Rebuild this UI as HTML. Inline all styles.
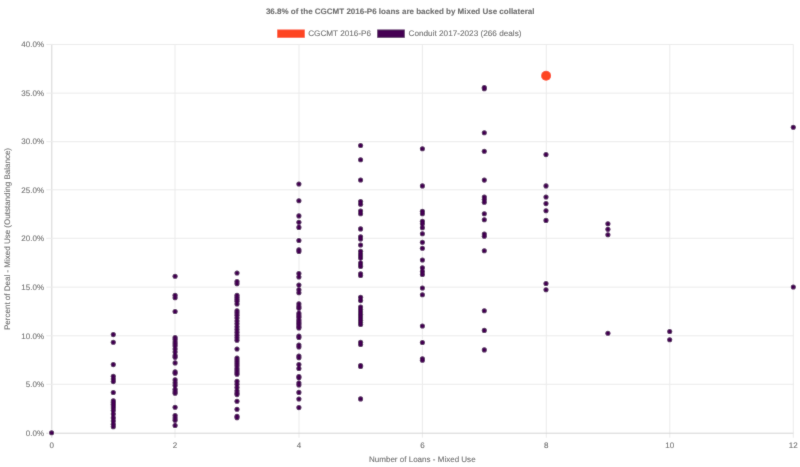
<!DOCTYPE html><html><head><meta charset="utf-8"><style>html,body{margin:0;padding:0;background:#fff;width:800px;height:467px;overflow:hidden}svg{display:block;will-change:transform}text{text-rendering:geometricPrecision;font-family:"Liberation Sans",sans-serif;font-size:8px;fill:#666666;stroke:#777;stroke-width:0.18px;stroke-opacity:0.6}</style></head><body>
<svg width="800" height="467" viewBox="0 0 800 467">
<defs><filter id="soft" x="0" y="0" width="800" height="467" filterUnits="userSpaceOnUse"><feConvolveMatrix order="3" kernelMatrix="0.2 1 0.2 1 10 1 0.2 1 0.2" edgeMode="none"/></filter></defs><g filter="url(#soft)"><rect width="800" height="467" fill="#fff"/>
<line x1="51.80" y1="44.45" x2="51.80" y2="437.70" stroke="#d4d4d4" stroke-width="1"/>
<line x1="175.00" y1="44.45" x2="175.00" y2="437.70" stroke="#ebebeb" stroke-width="1"/>
<line x1="299.00" y1="44.45" x2="299.00" y2="437.70" stroke="#ebebeb" stroke-width="1"/>
<line x1="422.40" y1="44.45" x2="422.40" y2="437.70" stroke="#ebebeb" stroke-width="1"/>
<line x1="546.30" y1="44.45" x2="546.30" y2="437.70" stroke="#ebebeb" stroke-width="1"/>
<line x1="669.80" y1="44.45" x2="669.80" y2="437.70" stroke="#ebebeb" stroke-width="1"/>
<line x1="793.30" y1="44.45" x2="793.30" y2="437.70" stroke="#ebebeb" stroke-width="1"/>
<line x1="46.30" y1="44.45" x2="793.30" y2="44.45" stroke="#ebebeb" stroke-width="1"/>
<line x1="46.30" y1="93.15" x2="793.30" y2="93.15" stroke="#ebebeb" stroke-width="1"/>
<line x1="46.30" y1="141.70" x2="793.30" y2="141.70" stroke="#ebebeb" stroke-width="1"/>
<line x1="46.30" y1="189.80" x2="793.30" y2="189.80" stroke="#ebebeb" stroke-width="1"/>
<line x1="46.30" y1="238.30" x2="793.30" y2="238.30" stroke="#ebebeb" stroke-width="1"/>
<line x1="46.30" y1="287.15" x2="793.30" y2="287.15" stroke="#ebebeb" stroke-width="1"/>
<line x1="46.30" y1="335.80" x2="793.30" y2="335.80" stroke="#ebebeb" stroke-width="1"/>
<line x1="46.30" y1="384.30" x2="793.30" y2="384.30" stroke="#ebebeb" stroke-width="1"/>
<line x1="46.30" y1="433.20" x2="793.30" y2="433.20" stroke="#d4d4d4" stroke-width="1"/>
<text x="44.00" y="47.20" text-anchor="end">40.0%</text>
<text x="44.00" y="95.90" text-anchor="end">35.0%</text>
<text x="44.00" y="144.45" text-anchor="end">30.0%</text>
<text x="44.00" y="192.55" text-anchor="end">25.0%</text>
<text x="44.00" y="241.05" text-anchor="end">20.0%</text>
<text x="44.00" y="289.90" text-anchor="end">15.0%</text>
<text x="44.00" y="338.55" text-anchor="end">10.0%</text>
<text x="44.00" y="387.05" text-anchor="end">5.0%</text>
<text x="44.00" y="435.95" text-anchor="end">0.0%</text>
<text x="51.80" y="447.7" text-anchor="middle">0</text>
<text x="175.00" y="447.7" text-anchor="middle">2</text>
<text x="299.00" y="447.7" text-anchor="middle">4</text>
<text x="422.40" y="447.7" text-anchor="middle">6</text>
<text x="546.30" y="447.7" text-anchor="middle">8</text>
<text x="669.80" y="447.7" text-anchor="middle">10</text>
<text x="793.30" y="447.7" text-anchor="middle">12</text>
<text x="422.3" y="461.9" text-anchor="middle" textLength="106.6" lengthAdjust="spacingAndGlyphs">Number of Loans - Mixed Use</text>
<text transform="translate(10.2 239.0) rotate(-90)" text-anchor="middle" textLength="182" lengthAdjust="spacingAndGlyphs">Percent of Deal - Mixed Use (Outstanding Balance)</text>
<text x="400.2" y="14.3" text-anchor="middle" style="font-weight:bold">36.8% of the CGCMT 2016-P6 loans are backed by Mixed Use collateral</text>
<rect x="277.2" y="29.5" width="27.6" height="8.3" fill="#fe4523"/>
<text x="308.2" y="36.4" textLength="62.8" lengthAdjust="spacingAndGlyphs">CGCMT 2016-P6</text>
<rect x="377.2" y="29.5" width="27.6" height="8.3" fill="#440352"/>
<text x="408.5" y="36.4" textLength="113" lengthAdjust="spacingAndGlyphs">Conduit 2017-2023 (266 deals)</text>
<g fill="#fff" fill-opacity="0.7">
<circle cx="51.60" cy="432.80" r="3.3"/>
<circle cx="113.30" cy="334.60" r="3.3"/>
<circle cx="113.30" cy="342.30" r="3.3"/>
<circle cx="113.30" cy="364.60" r="3.3"/>
<circle cx="113.30" cy="376.30" r="3.3"/>
<circle cx="113.30" cy="379.00" r="3.3"/>
<circle cx="113.30" cy="381.60" r="3.3"/>
<circle cx="113.30" cy="392.50" r="3.3"/>
<circle cx="113.30" cy="400.90" r="3.3"/>
<circle cx="113.30" cy="402.60" r="3.3"/>
<circle cx="113.30" cy="404.30" r="3.3"/>
<circle cx="113.30" cy="406.10" r="3.3"/>
<circle cx="113.30" cy="408.10" r="3.3"/>
<circle cx="113.30" cy="410.50" r="3.3"/>
<circle cx="113.30" cy="414.00" r="3.3"/>
<circle cx="113.30" cy="417.90" r="3.3"/>
<circle cx="113.30" cy="421.10" r="3.3"/>
<circle cx="113.30" cy="424.30" r="3.3"/>
<circle cx="113.30" cy="426.70" r="3.3"/>
<circle cx="175.10" cy="276.30" r="3.3"/>
<circle cx="175.10" cy="295.20" r="3.3"/>
<circle cx="175.10" cy="297.80" r="3.3"/>
<circle cx="175.10" cy="311.50" r="3.3"/>
<circle cx="175.10" cy="337.50" r="3.3"/>
<circle cx="175.10" cy="339.50" r="3.3"/>
<circle cx="175.10" cy="342.00" r="3.3"/>
<circle cx="175.10" cy="344.00" r="3.3"/>
<circle cx="175.10" cy="346.10" r="3.3"/>
<circle cx="175.10" cy="349.00" r="3.3"/>
<circle cx="175.10" cy="352.10" r="3.3"/>
<circle cx="175.10" cy="355.50" r="3.3"/>
<circle cx="175.10" cy="357.30" r="3.3"/>
<circle cx="175.10" cy="362.90" r="3.3"/>
<circle cx="175.10" cy="371.80" r="3.3"/>
<circle cx="175.10" cy="373.30" r="3.3"/>
<circle cx="175.10" cy="379.90" r="3.3"/>
<circle cx="175.10" cy="382.80" r="3.3"/>
<circle cx="175.10" cy="385.40" r="3.3"/>
<circle cx="175.10" cy="389.30" r="3.3"/>
<circle cx="175.10" cy="391.50" r="3.3"/>
<circle cx="175.10" cy="393.20" r="3.3"/>
<circle cx="175.10" cy="407.30" r="3.3"/>
<circle cx="175.10" cy="415.50" r="3.3"/>
<circle cx="175.10" cy="418.00" r="3.3"/>
<circle cx="175.10" cy="420.20" r="3.3"/>
<circle cx="175.10" cy="425.50" r="3.3"/>
<circle cx="237.00" cy="273.00" r="3.3"/>
<circle cx="237.00" cy="281.50" r="3.3"/>
<circle cx="237.00" cy="283.70" r="3.3"/>
<circle cx="237.00" cy="295.20" r="3.3"/>
<circle cx="237.00" cy="297.20" r="3.3"/>
<circle cx="237.00" cy="299.30" r="3.3"/>
<circle cx="237.00" cy="301.30" r="3.3"/>
<circle cx="237.00" cy="304.00" r="3.3"/>
<circle cx="237.00" cy="310.90" r="3.3"/>
<circle cx="237.00" cy="313.00" r="3.3"/>
<circle cx="237.00" cy="315.20" r="3.3"/>
<circle cx="237.00" cy="318.00" r="3.3"/>
<circle cx="237.00" cy="321.00" r="3.3"/>
<circle cx="237.00" cy="323.80" r="3.3"/>
<circle cx="237.00" cy="326.80" r="3.3"/>
<circle cx="237.00" cy="329.50" r="3.3"/>
<circle cx="237.00" cy="332.40" r="3.3"/>
<circle cx="237.00" cy="335.20" r="3.3"/>
<circle cx="237.00" cy="337.80" r="3.3"/>
<circle cx="237.00" cy="340.20" r="3.3"/>
<circle cx="237.00" cy="349.00" r="3.3"/>
<circle cx="237.00" cy="358.00" r="3.3"/>
<circle cx="237.00" cy="360.00" r="3.3"/>
<circle cx="237.00" cy="362.00" r="3.3"/>
<circle cx="237.00" cy="364.00" r="3.3"/>
<circle cx="237.00" cy="366.00" r="3.3"/>
<circle cx="237.00" cy="368.50" r="3.3"/>
<circle cx="237.00" cy="370.50" r="3.3"/>
<circle cx="237.00" cy="372.50" r="3.3"/>
<circle cx="237.00" cy="374.30" r="3.3"/>
<circle cx="237.00" cy="381.40" r="3.3"/>
<circle cx="237.00" cy="384.30" r="3.3"/>
<circle cx="237.00" cy="387.50" r="3.3"/>
<circle cx="237.00" cy="390.70" r="3.3"/>
<circle cx="237.00" cy="393.00" r="3.3"/>
<circle cx="237.00" cy="394.60" r="3.3"/>
<circle cx="237.00" cy="401.30" r="3.3"/>
<circle cx="237.00" cy="409.30" r="3.3"/>
<circle cx="237.00" cy="416.20" r="3.3"/>
<circle cx="237.00" cy="417.80" r="3.3"/>
<circle cx="298.90" cy="184.00" r="3.3"/>
<circle cx="298.90" cy="200.70" r="3.3"/>
<circle cx="298.90" cy="215.90" r="3.3"/>
<circle cx="298.90" cy="222.30" r="3.3"/>
<circle cx="298.90" cy="227.40" r="3.3"/>
<circle cx="298.90" cy="240.50" r="3.3"/>
<circle cx="298.90" cy="249.80" r="3.3"/>
<circle cx="298.90" cy="251.50" r="3.3"/>
<circle cx="298.90" cy="273.50" r="3.3"/>
<circle cx="298.90" cy="277.00" r="3.3"/>
<circle cx="298.90" cy="285.00" r="3.3"/>
<circle cx="298.90" cy="289.80" r="3.3"/>
<circle cx="298.90" cy="292.80" r="3.3"/>
<circle cx="298.90" cy="303.90" r="3.3"/>
<circle cx="298.90" cy="306.50" r="3.3"/>
<circle cx="298.90" cy="308.20" r="3.3"/>
<circle cx="298.90" cy="313.40" r="3.3"/>
<circle cx="298.90" cy="315.50" r="3.3"/>
<circle cx="298.90" cy="317.30" r="3.3"/>
<circle cx="298.90" cy="319.80" r="3.3"/>
<circle cx="298.90" cy="321.50" r="3.3"/>
<circle cx="298.90" cy="323.30" r="3.3"/>
<circle cx="298.90" cy="325.00" r="3.3"/>
<circle cx="298.90" cy="326.70" r="3.3"/>
<circle cx="298.90" cy="328.00" r="3.3"/>
<circle cx="298.90" cy="336.00" r="3.3"/>
<circle cx="298.90" cy="337.50" r="3.3"/>
<circle cx="298.90" cy="345.00" r="3.3"/>
<circle cx="298.90" cy="347.00" r="3.3"/>
<circle cx="298.90" cy="356.00" r="3.3"/>
<circle cx="298.90" cy="357.80" r="3.3"/>
<circle cx="298.90" cy="364.50" r="3.3"/>
<circle cx="298.90" cy="368.50" r="3.3"/>
<circle cx="298.90" cy="376.50" r="3.3"/>
<circle cx="298.90" cy="377.80" r="3.3"/>
<circle cx="298.90" cy="383.00" r="3.3"/>
<circle cx="298.90" cy="385.00" r="3.3"/>
<circle cx="298.90" cy="392.40" r="3.3"/>
<circle cx="298.90" cy="399.00" r="3.3"/>
<circle cx="298.90" cy="407.60" r="3.3"/>
<circle cx="360.60" cy="145.50" r="3.3"/>
<circle cx="360.60" cy="159.70" r="3.3"/>
<circle cx="360.60" cy="180.00" r="3.3"/>
<circle cx="360.60" cy="201.50" r="3.3"/>
<circle cx="360.60" cy="204.20" r="3.3"/>
<circle cx="360.60" cy="211.00" r="3.3"/>
<circle cx="360.60" cy="213.80" r="3.3"/>
<circle cx="360.60" cy="228.90" r="3.3"/>
<circle cx="360.60" cy="236.80" r="3.3"/>
<circle cx="360.60" cy="238.90" r="3.3"/>
<circle cx="360.60" cy="245.00" r="3.3"/>
<circle cx="360.60" cy="251.20" r="3.3"/>
<circle cx="360.60" cy="254.00" r="3.3"/>
<circle cx="360.60" cy="256.00" r="3.3"/>
<circle cx="360.60" cy="258.10" r="3.3"/>
<circle cx="360.60" cy="263.00" r="3.3"/>
<circle cx="360.60" cy="265.00" r="3.3"/>
<circle cx="360.60" cy="266.50" r="3.3"/>
<circle cx="360.60" cy="273.70" r="3.3"/>
<circle cx="360.60" cy="275.50" r="3.3"/>
<circle cx="360.60" cy="297.30" r="3.3"/>
<circle cx="360.60" cy="300.60" r="3.3"/>
<circle cx="360.60" cy="307.00" r="3.3"/>
<circle cx="360.60" cy="309.50" r="3.3"/>
<circle cx="360.60" cy="312.00" r="3.3"/>
<circle cx="360.60" cy="314.20" r="3.3"/>
<circle cx="360.60" cy="316.00" r="3.3"/>
<circle cx="360.60" cy="318.00" r="3.3"/>
<circle cx="360.60" cy="320.30" r="3.3"/>
<circle cx="360.60" cy="322.50" r="3.3"/>
<circle cx="360.60" cy="324.50" r="3.3"/>
<circle cx="360.60" cy="342.20" r="3.3"/>
<circle cx="360.60" cy="344.50" r="3.3"/>
<circle cx="360.60" cy="365.50" r="3.3"/>
<circle cx="360.60" cy="366.50" r="3.3"/>
<circle cx="360.60" cy="398.90" r="3.3"/>
<circle cx="422.40" cy="148.70" r="3.3"/>
<circle cx="422.40" cy="185.90" r="3.3"/>
<circle cx="422.40" cy="211.30" r="3.3"/>
<circle cx="422.40" cy="213.80" r="3.3"/>
<circle cx="422.40" cy="221.30" r="3.3"/>
<circle cx="422.40" cy="223.80" r="3.3"/>
<circle cx="422.40" cy="227.80" r="3.3"/>
<circle cx="422.40" cy="233.80" r="3.3"/>
<circle cx="422.40" cy="242.30" r="3.3"/>
<circle cx="422.40" cy="248.30" r="3.3"/>
<circle cx="422.40" cy="260.00" r="3.3"/>
<circle cx="422.40" cy="267.80" r="3.3"/>
<circle cx="422.40" cy="271.50" r="3.3"/>
<circle cx="422.40" cy="274.50" r="3.3"/>
<circle cx="422.40" cy="288.00" r="3.3"/>
<circle cx="422.40" cy="294.70" r="3.3"/>
<circle cx="422.40" cy="326.00" r="3.3"/>
<circle cx="422.40" cy="342.50" r="3.3"/>
<circle cx="422.40" cy="358.70" r="3.3"/>
<circle cx="422.40" cy="360.30" r="3.3"/>
<circle cx="484.30" cy="87.50" r="3.3"/>
<circle cx="484.30" cy="88.80" r="3.3"/>
<circle cx="484.30" cy="132.70" r="3.3"/>
<circle cx="484.30" cy="151.20" r="3.3"/>
<circle cx="484.30" cy="180.10" r="3.3"/>
<circle cx="484.30" cy="197.00" r="3.3"/>
<circle cx="484.30" cy="199.50" r="3.3"/>
<circle cx="484.30" cy="202.30" r="3.3"/>
<circle cx="484.30" cy="213.80" r="3.3"/>
<circle cx="484.30" cy="219.80" r="3.3"/>
<circle cx="484.30" cy="234.00" r="3.3"/>
<circle cx="484.30" cy="236.20" r="3.3"/>
<circle cx="484.30" cy="250.80" r="3.3"/>
<circle cx="484.30" cy="310.80" r="3.3"/>
<circle cx="484.30" cy="330.40" r="3.3"/>
<circle cx="484.30" cy="349.90" r="3.3"/>
<circle cx="546.00" cy="154.60" r="3.3"/>
<circle cx="546.00" cy="185.90" r="3.3"/>
<circle cx="546.00" cy="197.00" r="3.3"/>
<circle cx="546.00" cy="203.60" r="3.3"/>
<circle cx="546.00" cy="210.70" r="3.3"/>
<circle cx="546.00" cy="220.40" r="3.3"/>
<circle cx="546.00" cy="283.50" r="3.3"/>
<circle cx="546.00" cy="289.70" r="3.3"/>
<circle cx="607.90" cy="223.70" r="3.3"/>
<circle cx="607.90" cy="229.30" r="3.3"/>
<circle cx="607.90" cy="234.80" r="3.3"/>
<circle cx="607.90" cy="333.20" r="3.3"/>
<circle cx="669.70" cy="331.50" r="3.3"/>
<circle cx="669.70" cy="339.80" r="3.3"/>
<circle cx="793.30" cy="127.20" r="3.3"/>
<circle cx="793.30" cy="287.00" r="3.3"/>
</g><g fill="#440352">
<circle cx="51.60" cy="432.80" r="2.55"/>
<circle cx="113.30" cy="334.60" r="2.55"/>
<circle cx="113.30" cy="342.30" r="2.55"/>
<circle cx="113.30" cy="364.60" r="2.55"/>
<circle cx="113.30" cy="376.30" r="2.55"/>
<circle cx="113.30" cy="379.00" r="2.55"/>
<circle cx="113.30" cy="381.60" r="2.55"/>
<circle cx="113.30" cy="392.50" r="2.55"/>
<circle cx="113.30" cy="400.90" r="2.55"/>
<circle cx="113.30" cy="402.60" r="2.55"/>
<circle cx="113.30" cy="404.30" r="2.55"/>
<circle cx="113.30" cy="406.10" r="2.55"/>
<circle cx="113.30" cy="408.10" r="2.55"/>
<circle cx="113.30" cy="410.50" r="2.55"/>
<circle cx="113.30" cy="414.00" r="2.55"/>
<circle cx="113.30" cy="417.90" r="2.55"/>
<circle cx="113.30" cy="421.10" r="2.55"/>
<circle cx="113.30" cy="424.30" r="2.55"/>
<circle cx="113.30" cy="426.70" r="2.55"/>
<circle cx="175.10" cy="276.30" r="2.55"/>
<circle cx="175.10" cy="295.20" r="2.55"/>
<circle cx="175.10" cy="297.80" r="2.55"/>
<circle cx="175.10" cy="311.50" r="2.55"/>
<circle cx="175.10" cy="337.50" r="2.55"/>
<circle cx="175.10" cy="339.50" r="2.55"/>
<circle cx="175.10" cy="342.00" r="2.55"/>
<circle cx="175.10" cy="344.00" r="2.55"/>
<circle cx="175.10" cy="346.10" r="2.55"/>
<circle cx="175.10" cy="349.00" r="2.55"/>
<circle cx="175.10" cy="352.10" r="2.55"/>
<circle cx="175.10" cy="355.50" r="2.55"/>
<circle cx="175.10" cy="357.30" r="2.55"/>
<circle cx="175.10" cy="362.90" r="2.55"/>
<circle cx="175.10" cy="371.80" r="2.55"/>
<circle cx="175.10" cy="373.30" r="2.55"/>
<circle cx="175.10" cy="379.90" r="2.55"/>
<circle cx="175.10" cy="382.80" r="2.55"/>
<circle cx="175.10" cy="385.40" r="2.55"/>
<circle cx="175.10" cy="389.30" r="2.55"/>
<circle cx="175.10" cy="391.50" r="2.55"/>
<circle cx="175.10" cy="393.20" r="2.55"/>
<circle cx="175.10" cy="407.30" r="2.55"/>
<circle cx="175.10" cy="415.50" r="2.55"/>
<circle cx="175.10" cy="418.00" r="2.55"/>
<circle cx="175.10" cy="420.20" r="2.55"/>
<circle cx="175.10" cy="425.50" r="2.55"/>
<circle cx="237.00" cy="273.00" r="2.55"/>
<circle cx="237.00" cy="281.50" r="2.55"/>
<circle cx="237.00" cy="283.70" r="2.55"/>
<circle cx="237.00" cy="295.20" r="2.55"/>
<circle cx="237.00" cy="297.20" r="2.55"/>
<circle cx="237.00" cy="299.30" r="2.55"/>
<circle cx="237.00" cy="301.30" r="2.55"/>
<circle cx="237.00" cy="304.00" r="2.55"/>
<circle cx="237.00" cy="310.90" r="2.55"/>
<circle cx="237.00" cy="313.00" r="2.55"/>
<circle cx="237.00" cy="315.20" r="2.55"/>
<circle cx="237.00" cy="318.00" r="2.55"/>
<circle cx="237.00" cy="321.00" r="2.55"/>
<circle cx="237.00" cy="323.80" r="2.55"/>
<circle cx="237.00" cy="326.80" r="2.55"/>
<circle cx="237.00" cy="329.50" r="2.55"/>
<circle cx="237.00" cy="332.40" r="2.55"/>
<circle cx="237.00" cy="335.20" r="2.55"/>
<circle cx="237.00" cy="337.80" r="2.55"/>
<circle cx="237.00" cy="340.20" r="2.55"/>
<circle cx="237.00" cy="349.00" r="2.55"/>
<circle cx="237.00" cy="358.00" r="2.55"/>
<circle cx="237.00" cy="360.00" r="2.55"/>
<circle cx="237.00" cy="362.00" r="2.55"/>
<circle cx="237.00" cy="364.00" r="2.55"/>
<circle cx="237.00" cy="366.00" r="2.55"/>
<circle cx="237.00" cy="368.50" r="2.55"/>
<circle cx="237.00" cy="370.50" r="2.55"/>
<circle cx="237.00" cy="372.50" r="2.55"/>
<circle cx="237.00" cy="374.30" r="2.55"/>
<circle cx="237.00" cy="381.40" r="2.55"/>
<circle cx="237.00" cy="384.30" r="2.55"/>
<circle cx="237.00" cy="387.50" r="2.55"/>
<circle cx="237.00" cy="390.70" r="2.55"/>
<circle cx="237.00" cy="393.00" r="2.55"/>
<circle cx="237.00" cy="394.60" r="2.55"/>
<circle cx="237.00" cy="401.30" r="2.55"/>
<circle cx="237.00" cy="409.30" r="2.55"/>
<circle cx="237.00" cy="416.20" r="2.55"/>
<circle cx="237.00" cy="417.80" r="2.55"/>
<circle cx="298.90" cy="184.00" r="2.55"/>
<circle cx="298.90" cy="200.70" r="2.55"/>
<circle cx="298.90" cy="215.90" r="2.55"/>
<circle cx="298.90" cy="222.30" r="2.55"/>
<circle cx="298.90" cy="227.40" r="2.55"/>
<circle cx="298.90" cy="240.50" r="2.55"/>
<circle cx="298.90" cy="249.80" r="2.55"/>
<circle cx="298.90" cy="251.50" r="2.55"/>
<circle cx="298.90" cy="273.50" r="2.55"/>
<circle cx="298.90" cy="277.00" r="2.55"/>
<circle cx="298.90" cy="285.00" r="2.55"/>
<circle cx="298.90" cy="289.80" r="2.55"/>
<circle cx="298.90" cy="292.80" r="2.55"/>
<circle cx="298.90" cy="303.90" r="2.55"/>
<circle cx="298.90" cy="306.50" r="2.55"/>
<circle cx="298.90" cy="308.20" r="2.55"/>
<circle cx="298.90" cy="313.40" r="2.55"/>
<circle cx="298.90" cy="315.50" r="2.55"/>
<circle cx="298.90" cy="317.30" r="2.55"/>
<circle cx="298.90" cy="319.80" r="2.55"/>
<circle cx="298.90" cy="321.50" r="2.55"/>
<circle cx="298.90" cy="323.30" r="2.55"/>
<circle cx="298.90" cy="325.00" r="2.55"/>
<circle cx="298.90" cy="326.70" r="2.55"/>
<circle cx="298.90" cy="328.00" r="2.55"/>
<circle cx="298.90" cy="336.00" r="2.55"/>
<circle cx="298.90" cy="337.50" r="2.55"/>
<circle cx="298.90" cy="345.00" r="2.55"/>
<circle cx="298.90" cy="347.00" r="2.55"/>
<circle cx="298.90" cy="356.00" r="2.55"/>
<circle cx="298.90" cy="357.80" r="2.55"/>
<circle cx="298.90" cy="364.50" r="2.55"/>
<circle cx="298.90" cy="368.50" r="2.55"/>
<circle cx="298.90" cy="376.50" r="2.55"/>
<circle cx="298.90" cy="377.80" r="2.55"/>
<circle cx="298.90" cy="383.00" r="2.55"/>
<circle cx="298.90" cy="385.00" r="2.55"/>
<circle cx="298.90" cy="392.40" r="2.55"/>
<circle cx="298.90" cy="399.00" r="2.55"/>
<circle cx="298.90" cy="407.60" r="2.55"/>
<circle cx="360.60" cy="145.50" r="2.55"/>
<circle cx="360.60" cy="159.70" r="2.55"/>
<circle cx="360.60" cy="180.00" r="2.55"/>
<circle cx="360.60" cy="201.50" r="2.55"/>
<circle cx="360.60" cy="204.20" r="2.55"/>
<circle cx="360.60" cy="211.00" r="2.55"/>
<circle cx="360.60" cy="213.80" r="2.55"/>
<circle cx="360.60" cy="228.90" r="2.55"/>
<circle cx="360.60" cy="236.80" r="2.55"/>
<circle cx="360.60" cy="238.90" r="2.55"/>
<circle cx="360.60" cy="245.00" r="2.55"/>
<circle cx="360.60" cy="251.20" r="2.55"/>
<circle cx="360.60" cy="254.00" r="2.55"/>
<circle cx="360.60" cy="256.00" r="2.55"/>
<circle cx="360.60" cy="258.10" r="2.55"/>
<circle cx="360.60" cy="263.00" r="2.55"/>
<circle cx="360.60" cy="265.00" r="2.55"/>
<circle cx="360.60" cy="266.50" r="2.55"/>
<circle cx="360.60" cy="273.70" r="2.55"/>
<circle cx="360.60" cy="275.50" r="2.55"/>
<circle cx="360.60" cy="297.30" r="2.55"/>
<circle cx="360.60" cy="300.60" r="2.55"/>
<circle cx="360.60" cy="307.00" r="2.55"/>
<circle cx="360.60" cy="309.50" r="2.55"/>
<circle cx="360.60" cy="312.00" r="2.55"/>
<circle cx="360.60" cy="314.20" r="2.55"/>
<circle cx="360.60" cy="316.00" r="2.55"/>
<circle cx="360.60" cy="318.00" r="2.55"/>
<circle cx="360.60" cy="320.30" r="2.55"/>
<circle cx="360.60" cy="322.50" r="2.55"/>
<circle cx="360.60" cy="324.50" r="2.55"/>
<circle cx="360.60" cy="342.20" r="2.55"/>
<circle cx="360.60" cy="344.50" r="2.55"/>
<circle cx="360.60" cy="365.50" r="2.55"/>
<circle cx="360.60" cy="366.50" r="2.55"/>
<circle cx="360.60" cy="398.90" r="2.55"/>
<circle cx="422.40" cy="148.70" r="2.55"/>
<circle cx="422.40" cy="185.90" r="2.55"/>
<circle cx="422.40" cy="211.30" r="2.55"/>
<circle cx="422.40" cy="213.80" r="2.55"/>
<circle cx="422.40" cy="221.30" r="2.55"/>
<circle cx="422.40" cy="223.80" r="2.55"/>
<circle cx="422.40" cy="227.80" r="2.55"/>
<circle cx="422.40" cy="233.80" r="2.55"/>
<circle cx="422.40" cy="242.30" r="2.55"/>
<circle cx="422.40" cy="248.30" r="2.55"/>
<circle cx="422.40" cy="260.00" r="2.55"/>
<circle cx="422.40" cy="267.80" r="2.55"/>
<circle cx="422.40" cy="271.50" r="2.55"/>
<circle cx="422.40" cy="274.50" r="2.55"/>
<circle cx="422.40" cy="288.00" r="2.55"/>
<circle cx="422.40" cy="294.70" r="2.55"/>
<circle cx="422.40" cy="326.00" r="2.55"/>
<circle cx="422.40" cy="342.50" r="2.55"/>
<circle cx="422.40" cy="358.70" r="2.55"/>
<circle cx="422.40" cy="360.30" r="2.55"/>
<circle cx="484.30" cy="87.50" r="2.55"/>
<circle cx="484.30" cy="88.80" r="2.55"/>
<circle cx="484.30" cy="132.70" r="2.55"/>
<circle cx="484.30" cy="151.20" r="2.55"/>
<circle cx="484.30" cy="180.10" r="2.55"/>
<circle cx="484.30" cy="197.00" r="2.55"/>
<circle cx="484.30" cy="199.50" r="2.55"/>
<circle cx="484.30" cy="202.30" r="2.55"/>
<circle cx="484.30" cy="213.80" r="2.55"/>
<circle cx="484.30" cy="219.80" r="2.55"/>
<circle cx="484.30" cy="234.00" r="2.55"/>
<circle cx="484.30" cy="236.20" r="2.55"/>
<circle cx="484.30" cy="250.80" r="2.55"/>
<circle cx="484.30" cy="310.80" r="2.55"/>
<circle cx="484.30" cy="330.40" r="2.55"/>
<circle cx="484.30" cy="349.90" r="2.55"/>
<circle cx="546.00" cy="154.60" r="2.55"/>
<circle cx="546.00" cy="185.90" r="2.55"/>
<circle cx="546.00" cy="197.00" r="2.55"/>
<circle cx="546.00" cy="203.60" r="2.55"/>
<circle cx="546.00" cy="210.70" r="2.55"/>
<circle cx="546.00" cy="220.40" r="2.55"/>
<circle cx="546.00" cy="283.50" r="2.55"/>
<circle cx="546.00" cy="289.70" r="2.55"/>
<circle cx="607.90" cy="223.70" r="2.55"/>
<circle cx="607.90" cy="229.30" r="2.55"/>
<circle cx="607.90" cy="234.80" r="2.55"/>
<circle cx="607.90" cy="333.20" r="2.55"/>
<circle cx="669.70" cy="331.50" r="2.55"/>
<circle cx="669.70" cy="339.80" r="2.55"/>
<circle cx="793.30" cy="127.20" r="2.55"/>
<circle cx="793.30" cy="287.00" r="2.55"/>
</g>
<circle cx="546.1" cy="75.8" r="5.6" fill="#fff" fill-opacity="0.7"/>
<circle cx="546.1" cy="75.8" r="5.0" fill="#fe4523"/>
</g></svg></body></html>
